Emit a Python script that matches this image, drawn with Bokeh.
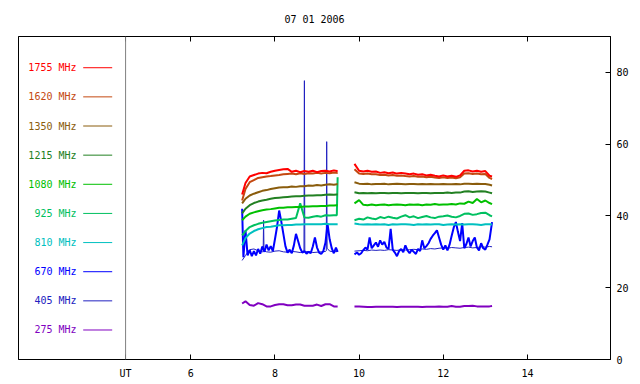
from bokeh.plotting import figure
from bokeh.models import LinearAxis, FixedTicker, Span, ColumnDataSource, Range1d
from bokeh.embed import file_html
from bokeh.resources import INLINE
from bokeh.core.properties import value

# ---------------- data ----------------
title_text = "07 01 2006"
freqs = ["1755 MHz", "1620 MHz", "1350 MHz", "1215 MHz", "1080 MHz",
         "925 MHz", "810 MHz", "670 MHz", "405 MHz", "275 MHz"]
colors = ["#ff0000", "#c44810", "#8a5c0c", "#228022", "#00c000",
          "#00c060", "#00c0c0", "#0000ff", "#2020c0", "#8000c0"]
ut_label = "UT"
ut_pos = 4.45
x_ticks = [6, 8, 10, 12, 14]
y_ticks = [0, 20, 40, 60, 80]

# shared time grids (UT hours)
t1 = [7.22, 7.3, 7.4, 7.5, 7.6, 7.7, 7.8, 7.9, 8.0, 8.1, 8.2, 8.3, 8.4, 8.5,
      8.6, 8.7, 8.8, 8.9, 9.0, 9.1, 9.2, 9.3, 9.4, 9.47, 9.49]
t2 = [9.89, 10.0, 10.1, 10.2, 10.3, 10.4, 10.5, 10.6, 10.7, 10.8, 10.9, 11.0,
      11.1, 11.2, 11.3, 11.4, 11.5, 11.6, 11.7, 11.8, 11.9, 12.0, 12.1, 12.2,
      12.3, 12.4, 12.5, 12.6, 12.7, 12.8, 12.9, 13.0, 13.1, 13.16]

f1755_a = [46.0, 49.2, 51.0, 51.4, 51.8, 52.0, 51.9, 52.3, 52.6, 52.8, 53.0, 53.1,
           52.3, 52.6, 52.2, 52.5, 52.3, 52.6, 52.2, 52.5, 52.6, 52.4, 52.7, 52.5, 52.5]
f1755_b = [54.5, 52.6, 52.4, 52.6, 52.3, 52.4, 52.0, 52.2, 51.9, 52.1, 51.8, 52.0,
           51.8, 51.6, 51.8, 51.5, 51.6, 51.3, 51.5, 51.2, 51.0, 51.3, 51.0, 51.2,
           50.9, 51.3, 52.6, 52.7, 52.4, 52.6, 52.3, 52.5, 51.2, 51.0]
f1620_a = [44.3, 47.5, 49.4, 50.0, 50.6, 50.8, 51.0, 51.1, 51.3, 51.4, 51.6, 51.7,
           51.8, 51.6, 51.9, 51.7, 51.9, 51.8, 52.0, 51.8, 52.0, 51.9, 52.1, 52.0, 52.0]
f1620_b = [53.0, 51.8, 51.7, 51.8, 51.6, 51.6, 51.4, 51.5, 51.3, 51.4, 51.2, 51.3,
           51.1, 51.0, 51.1, 50.9, 51.0, 50.8, 50.9, 50.7, 50.6, 50.8, 50.6, 50.7,
           50.5, 50.8, 51.8, 51.9, 51.7, 51.8, 51.6, 51.7, 50.6, 50.3]
f1350_a = [43.5, 44.8, 45.7, 46.2, 46.6, 47.0, 47.2, 47.5, 47.7, 47.9, 48.0, 48.0,
           48.2, 48.1, 48.3, 48.3, 48.5, 48.4, 48.6, 48.5, 48.7, 48.8, 48.7, 48.8, 48.8]
f1350_b = [49.4, 49.0, 48.9, 49.0, 48.8, 48.9, 48.9, 49.0, 48.8, 48.9, 49.0, 48.9,
           48.8, 48.9, 48.9, 48.8, 48.9, 48.8, 48.9, 48.8, 48.8, 48.9, 48.8, 48.8,
           48.9, 48.8, 49.0, 49.0, 48.9, 49.0, 48.9, 48.9, 48.7, 48.5]
f1215_a = [40.7, 42.0, 43.0, 43.6, 44.0, 44.3, 44.5, 44.8, 45.0, 45.1, 45.2, 45.3,
           45.4, 45.5, 45.5, 45.6, 45.7, 45.7, 45.8, 45.8, 45.9, 46.0, 45.9, 46.0, 46.0]
f1215_b = [46.6, 46.3, 46.4, 46.3, 46.4, 46.3, 46.4, 46.4, 46.3, 46.4, 46.4, 46.3,
           46.4, 46.4, 46.4, 46.3, 46.4, 46.4, 46.3, 46.4, 46.4, 46.4, 46.5, 46.4,
           46.5, 46.5, 46.8, 46.9, 46.7, 46.8, 46.9, 46.8, 46.5, 46.3]
f1080_a = [38.8, 39.8, 40.6, 41.0, 41.3, 41.6, 41.8, 41.9, 42.1, 42.3, 42.3, 42.4,
           42.4, 42.5, 42.5, 42.6, 42.6, 42.7, 42.7, 42.8, 42.8, 42.9, 42.9, 43.0, 43.0]
f1080_b = [43.5, 44.4, 43.1, 43.0, 43.2, 43.0, 43.1, 43.2, 43.0, 43.1, 43.2, 43.1,
           43.0, 43.2, 43.1, 43.2, 43.0, 43.2, 43.1, 43.3, 43.1, 43.2, 43.2, 43.3,
           43.2, 43.5, 43.4, 44.0, 43.6, 44.7, 43.8, 44.3, 43.6, 43.3]
f925_a = [34.6, 35.8, 36.9, 37.4, 37.8, 38.1, 38.3, 38.5, 38.7, 38.9, 39.0, 39.0,
          39.2, 39.4, 43.5, 39.6, 39.5, 39.8, 40.0, 39.8, 40.2, 40.1, 40.2, 40.2, 50.8]
f925_b = [38.8, 39.2, 39.0, 39.6, 39.3, 39.1, 39.7, 39.4, 39.8, 39.5, 39.3, 39.8,
          40.2, 39.6, 39.9, 39.4, 39.7, 40.0, 39.6, 39.4, 39.8, 39.9, 40.1, 39.8,
          39.6, 40.0, 40.6, 40.7, 40.3, 40.5, 40.8, 40.9, 40.2, 39.9]
f810_a = [31.8, 33.8, 35.1, 35.8, 36.3, 36.6, 36.9, 37.0, 37.2, 37.4, 37.4, 37.5,
          37.5, 37.6, 37.6, 37.7, 37.7, 37.7, 37.7, 37.7, 37.8, 37.7, 37.7, 37.7, 37.7]
f810_b = [37.9, 37.7, 37.6, 37.7, 37.6, 37.7, 37.6, 37.7, 37.5, 37.7, 37.6, 37.7,
          37.7, 37.6, 37.5, 37.7, 37.6, 37.7, 37.6, 37.7, 37.7, 37.5, 37.6, 37.7,
          37.6, 37.7, 37.6, 37.7, 37.7, 37.6, 37.5, 37.7, 37.7, 37.6]
f275_a = [15.6, 16.2, 15.2, 15.0, 15.7, 15.4, 14.8, 14.8, 15.2, 15.4, 15.4, 15.1,
          15.1, 15.3, 15.3, 15.0, 15.0, 15.0, 15.3, 14.9, 15.4, 15.4, 14.8, 14.8, 14.8]
f275_b = [14.8, 14.8, 14.7, 14.6, 14.6, 14.7, 14.7, 14.7, 14.7, 14.7, 14.6, 14.7,
          14.7, 14.7, 14.7, 14.7, 14.6, 14.7, 14.7, 14.7, 14.8, 14.7, 14.7, 14.9,
          14.7, 14.7, 14.9, 14.9, 15.0, 14.8, 14.8, 14.8, 14.8, 14.9]

# 405 MHz (own time grid, contains the narrow spikes)
t405_a = [7.22, 7.3, 7.4, 7.5, 7.6, 7.7, 7.72, 7.73, 7.74, 7.8, 7.9, 8.0, 8.1,
          8.2, 8.3, 8.4, 8.5, 8.6, 8.69, 8.70, 8.71, 8.8, 8.9, 9.0, 9.1, 9.2,
          9.22, 9.23, 9.24, 9.3, 9.4, 9.49]
f405_a = [27.6, 29.0, 30.6, 30.8, 30.3, 30.0, 30.1, 38.8, 30.2, 30.0, 29.9, 30.2,
          30.3, 30.0, 29.9, 30.1, 30.0, 29.8, 29.9, 77.7, 30.0, 30.1, 29.8, 29.9,
          30.0, 30.1, 30.3, 60.7, 31.0, 30.2, 30.0, 30.1]
f405_b = [30.2, 30.3, 30.4, 30.3, 30.5, 30.4, 30.5, 30.4, 30.6, 30.5, 30.4, 30.6,
          30.5, 30.6, 30.7, 30.6, 30.8, 30.7, 30.9, 30.8, 31.0, 31.1, 31.0, 31.2,
          31.1, 31.0, 31.2, 31.3, 31.1, 31.2, 31.4, 31.3, 31.5, 31.4]

# 670 MHz (finer time grid, noisy)
t670_a = [7.22, 7.25, 7.30, 7.35, 7.40, 7.45, 7.50, 7.55, 7.60, 7.65,
          7.70, 7.75, 7.80, 7.85, 7.90, 7.95, 8.00, 8.05, 8.10, 8.15,
          8.20, 8.25, 8.30, 8.35, 8.40, 8.45, 8.50, 8.55, 8.60, 8.65,
          8.70, 8.75, 8.80, 8.85, 8.90, 8.95, 9.00, 9.05, 9.10, 9.15,
          9.20, 9.25, 9.30, 9.35, 9.40, 9.45, 9.49]
f670_a = [42.0, 28.5, 36.0, 29.0, 30.5, 28.8, 30.2, 29.0, 30.8, 29.5,
          31.5, 30.0, 32.0, 30.4, 31.6, 30.2, 33.5, 37.0, 41.5, 38.5,
          35.0, 31.5, 29.8, 30.6, 29.6, 31.8, 35.0, 33.0, 31.0, 29.8,
          30.2, 29.5, 30.0, 29.6, 31.5, 34.0, 31.2, 29.8, 29.4, 30.2,
          32.5, 37.8, 33.5, 31.0, 29.6, 31.2, 30.0]
t670_b = [9.89, 9.95, 10.00, 10.05, 10.10, 10.15, 10.20, 10.25, 10.30, 10.35,
          10.40, 10.45, 10.50, 10.55, 10.60, 10.65, 10.70, 10.75, 10.80, 10.85,
          10.90, 10.95, 11.00, 11.05, 11.10, 11.15, 11.20, 11.25, 11.30, 11.35,
          11.40, 11.45, 11.50, 11.55, 11.60, 11.65, 11.70, 11.75, 11.80, 11.85,
          11.90, 11.95, 12.00, 12.05, 12.10, 12.15, 12.20, 12.25, 12.30, 12.35,
          12.40, 12.45, 12.50, 12.55, 12.60, 12.65, 12.70, 12.75, 12.80, 12.85,
          12.90, 12.95, 13.00, 13.05, 13.10, 13.16]
f670_b = [29.3, 29.8, 29.2, 29.6, 30.5, 31.2, 30.6, 34.0, 31.0, 31.8,
          32.6, 31.4, 33.2, 32.0, 32.8, 31.2, 30.8, 36.4, 30.6, 29.8,
          28.8, 30.2, 30.8, 29.9, 31.8, 30.4, 29.6, 30.6, 30.0, 29.4,
          30.8, 30.2, 33.2, 31.0, 31.6, 32.4, 33.6, 34.5, 35.2, 36.0,
          34.0, 32.0, 30.6, 31.8, 30.4, 32.0, 34.5, 36.8, 38.3, 35.5,
          33.0, 38.0, 31.0, 32.2, 34.0, 31.5, 33.0, 34.0, 31.2, 30.4,
          32.4, 31.0, 30.6, 32.0, 33.5, 38.3]

series = {
    "1755 MHz": (t1, f1755_a, t2, f1755_b),
    "1620 MHz": (t1, f1620_a, t2, f1620_b),
    "1350 MHz": (t1, f1350_a, t2, f1350_b),
    "1215 MHz": (t1, f1215_a, t2, f1215_b),
    "1080 MHz": (t1, f1080_a, t2, f1080_b),
    "925 MHz": (t1, f925_a, t2, f925_b),
    "810 MHz": (t1, f810_a, t2, f810_b),
    "670 MHz": (t670_a, f670_a, t670_b, f670_b),
    "405 MHz": (t405_a, f405_a, t2, f405_b),
    "275 MHz": (t1, f275_a, t2, f275_b),
}

# ---------------- figure ----------------
FONT = "DejaVu Sans Mono"
p = figure(frame_width=592, frame_height=323,
           x_range=Range1d(1.905, 15.975), y_range=Range1d(0, 90),
           toolbar_location=None, output_backend="svg",
           x_axis_location="below", y_axis_location="right",
           min_border_left=18, min_border_right=30,
           min_border_top=36, min_border_bottom=24,
           background_fill_color="white", border_fill_color="white")
p.outline_line_color = "black"
p.outline_line_width = 1
p.xgrid.visible = False
p.ygrid.visible = False

p.title.text = title_text
p.title.align = "center"
p.title.vertical_align = "top"
p.title.text_font = FONT
p.title.text_font_size = "10px"
p.title.text_font_style = "normal"
p.title.text_color = "black"
p.title.standoff = 20

xa = p.xaxis[0]
xa.ticker = FixedTicker(ticks=[ut_pos] + x_ticks)
xa.major_label_overrides = {ut_pos: ut_label}
ya = p.yaxis[0]
ya.ticker = FixedTicker(ticks=y_ticks)
for ax in (xa, ya):
    ax.major_tick_in = 5
    ax.major_tick_out = 0
    ax.minor_tick_in = 0
    ax.minor_tick_out = 0
    ax.axis_line_color = "black"
    ax.major_tick_line_color = "black"
    ax.major_label_text_font = FONT
    ax.major_label_text_font_size = "10px"
    ax.major_label_text_color = "black"
xa.major_label_standoff = 8
ya.major_label_standoff = 6

top = LinearAxis(ticker=FixedTicker(ticks=[ut_pos] + x_ticks),
                 major_label_overrides={t: "" for t in [ut_pos] + x_ticks},
                 major_label_standoff=0,
                 major_tick_in=5, major_tick_out=0,
                 minor_tick_in=0, minor_tick_out=0,
                 axis_line_color="black", major_tick_line_color="black")
p.add_layout(top, "above")

p.add_layout(Span(location=ut_pos, dimension="height",
                  line_color="#808080", line_width=1))

# data lines (drawn from low to high frequency)
nan = float("nan")
for name, col in reversed(list(zip(freqs, colors))):
    ta, va, tb, vb = series[name]
    lw = 1 if name == "405 MHz" else 2
    p.line(x=list(ta) + [nan] + list(tb), y=list(va) + [nan] + list(vb),
           line_color=col, line_width=lw)

# legend (label left of a short line), layout in data units
leg_top, leg_step = 81.3, 8.12
leg_text_x, leg_x0, leg_x1 = 3.284, 3.443, 4.132
ys = [leg_top - i * leg_step for i in range(len(freqs))]
leg = ColumnDataSource(dict(
    tx=[leg_text_x] * len(freqs), x0=[leg_x0] * len(freqs),
    x1=[leg_x1] * len(freqs), y=ys, text=freqs, color=colors))
p.text(x="tx", y="y", text="text", text_color="color", source=leg,
       text_align="right", text_baseline="middle",
       text_font=value(FONT), text_font_size="10px")
p.segment(x0="x0", y0="y", x1="x1", y1="y", line_color="color",
          line_width=1, source=leg)

open("out.html", "w").write(file_html(p, INLINE))
